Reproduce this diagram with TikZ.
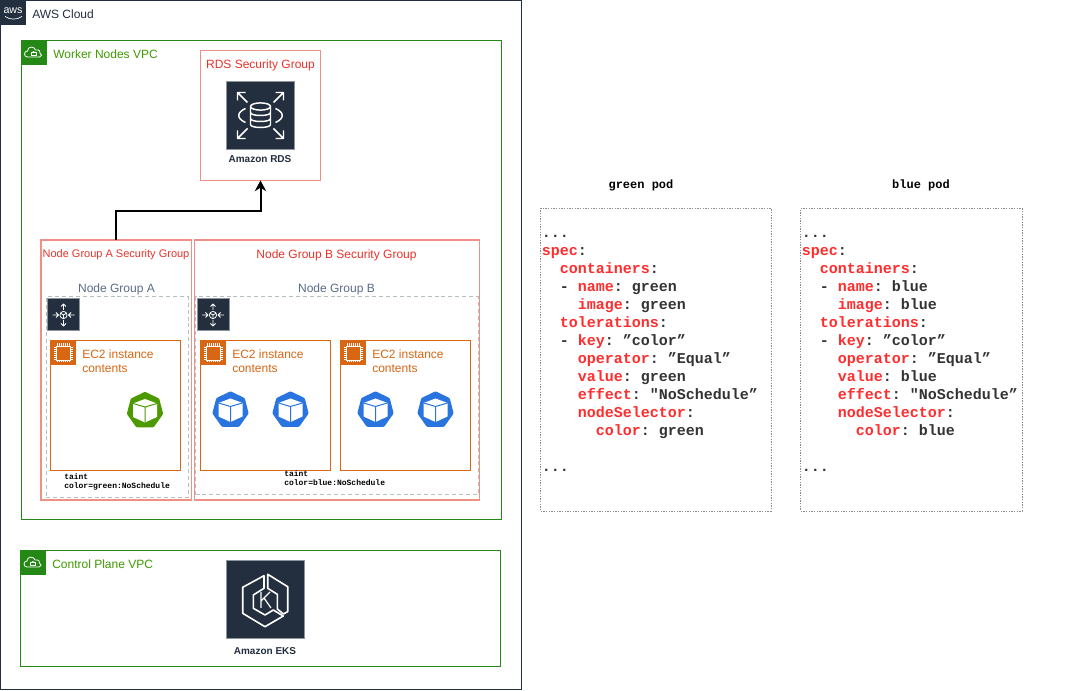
\documentclass[tikz,border=0pt]{standalone}
\usepackage{fontspec}
\setmainfont{Liberation Sans}
\setmonofont{Liberation Mono}
\usetikzlibrary{fit,arrows.meta,calc}
\definecolor{awsdark}{HTML}{232F3E}
\definecolor{vpcline}{HTML}{248814}
\definecolor{vpctext}{HTML}{3F9A00}
\definecolor{sgline}{HTML}{F08F85}
\definecolor{sgtext}{HTML}{E8332A}
\definecolor{ngtext}{HTML}{5A6C86}
\definecolor{ngline}{HTML}{B4BFC0}
\definecolor{ecorange}{HTML}{D86613}
\definecolor{iconedge}{HTML}{8C949E}
\definecolor{podgreen}{HTML}{4D9A00}
\definecolor{podblue}{HTML}{2A74E0}
\definecolor{codered}{HTML}{FF2D2D}
\definecolor{codeink}{HTML}{333333}
\newcommand{\fs}[2]{\fontsize{#1pt}{#2pt}\selectfont}
\newcommand{\kw}[1]{\textcolor{codered}{#1}}
\newcommand{\bx}[6]{\node[fit={(#3,#4)(#5,#6)},inner sep=0pt,outer sep=0pt,#2] (#1) {};}
\tikzset{
  x=0.75pt,y=-0.75pt,
  cloudbox/.style={draw=awsdark,line width=0.75pt},
  vpcbox/.style={draw=vpcline,line width=0.75pt},
  sgbox/.style={draw=sgline,line width=0.9pt},
  ngbox/.style={draw=ngline,line width=0.75pt,dash pattern=on 3pt off 2.2pt},
  ecbox/.style={draw=ecorange,line width=0.9pt},
  codebox/.style={draw=black!45,line width=0.6pt,dash pattern=on 1pt off 1pt},
  iconbox/.style={fill=awsdark,draw=iconedge,line width=0.75pt},
  vpcflag/.style={fill=vpcline},
  ecflag/.style={fill=ecorange},
  awsflag/.style={fill=awsdark},
  vpclabel/.style={anchor=west,inner sep=0pt,text=vpctext,font=\fs{9}{11}},
  sglabel/.style={inner sep=0pt,text=sgtext,font=\fs{9}{11}},
  nglabel/.style={inner sep=0pt,text=ngtext,font=\fs{9}{11}},
  eclabel/.style={anchor=north west,align=left,inner sep=0pt,text=ecorange,font=\fs{9}{10.5}},
  iconlabel/.style={inner sep=0pt,text=awsdark,font=\bfseries\fs{7.5}{9}},
  taintlabel/.style={anchor=north west,align=left,inner sep=0pt,font=\ttfamily\bfseries\fs{6}{6.75}},
  titlelabel/.style={inner sep=0pt,font=\ttfamily\bfseries\fs{9}{10}},
  codelabel/.style={anchor=north west,align=left,inner sep=0pt,text=codeink,font=\ttfamily\bfseries\fs{11.25}{13.45}},
  connector/.style={draw=black,line width=1.5pt,-{Stealth[length=8pt,width=8.5pt]}},
  iconline/.style={draw=white,line width=0.75pt,fill=none,line join=round},
}
\newcommand{\podicon}[3]{%
  \begin{scope}[shift={(#1,#2)}]
    \fill[#3,draw=#3,line width=3pt,line join=round] (0,-16) -- (12.5,-10) -- (16,3.5) -- (7.5,15.5) -- (-7.5,15.5) -- (-16,3.5) -- (-12.5,-10) -- cycle;
    \fill[white] (0,-11) -- (12,-6.5) -- (12,7) -- (0,12.5) -- (-12,7) -- (-12,-6.5) -- cycle;
    \draw[#3,line width=0.75pt] (-12,-6.5) -- (0,-3) -- (12,-6.5) (0,-3) -- (0,12.5);
  \end{scope}}
\newcommand{\cloudicon}[2]{%
  \begin{scope}[shift={(#1,#2)}]
    \draw[iconline,line width=0.6pt] (-6,4) .. controls (-10,4) and (-10,-2) .. (-6,-2) .. controls (-6,-7) and (1,-7) .. (2,-3) .. controls (6,-4) and (7,-1) .. (6.5,0) .. controls (9,1) and (8.5,4) .. (6,4) -- cycle;
    \draw[iconline,line width=0.6pt] (-2.5,-0.2) rectangle (2.5,2.8);
    \draw[iconline,line width=0.6pt] (-1.4,-0.2) arc (180:360:1.4);
  \end{scope}}
\newcommand{\chipicon}[2]{%
  \begin{scope}[shift={(#1,#2)}]
    \draw[white,line width=0.6pt] (-7,-7) rectangle (7,7);
    \foreach \t in {-6,-4,-2,0,2,4,6} {
      \draw[white,line width=0.4pt] (\t,-7) -- (\t,-9.5) (\t,7) -- (\t,9.5) (-7,\t) -- (-9.5,\t) (7,\t) -- (9.5,\t);
    }
  \end{scope}}
\newcommand{\scaleicon}[2]{%
  \begin{scope}[shift={(#1,#2)}]
    \draw[iconline,line width=0.6pt] (0,0) circle (3.6);
    \draw[iconline,line width=0.6pt] (-3,-1.8) -- (0,0) -- (3,-1.8) (0,0) -- (0,3.6);
    \draw[iconline,line width=0.6pt] (-5,0) -- (-11,0) (-7.5,-2.5) -- (-5,0) -- (-7.5,2.5);
    \draw[iconline,line width=0.6pt] (5,0) -- (11,0) (7.5,-2.5) -- (5,0) -- (7.5,2.5);
    \draw[iconline,line width=0.6pt] (0,-5) -- (0,-11) (-2.5,-8.5) -- (0,-11) -- (2.5,-8.5);
    \draw[iconline,line width=0.6pt] (0,5) -- (0,11) (-2.5,8.5) -- (0,11) -- (2.5,8.5);
  \end{scope}}
\begin{document}
\begin{tikzpicture}
\useasboundingbox (0,0) rectangle (1083,691);
\fill[white] (0,0) rectangle (1083,691);
% containers
\bx{cloud}{cloudbox}{0.5}{0.5}{521}{690}
\bx{worker}{vpcbox}{21.5}{41}{501.5}{520}
\bx{control}{vpcbox}{20.5}{550.5}{500.5}{666.5}
\bx{rdssg}{sgbox}{200.5}{50.5}{320.5}{180.5}
\bx{nga}{ngbox}{46}{297}{188}{497.5}
\bx{ngb}{ngbox}{195.5}{297}{478}{495}
\bx{sga}{sgbox}{41}{240}{191.5}{500}
\bx{sgb}{sgbox}{194.5}{240}{479.5}{500}
\bx{eca}{ecbox}{50.5}{340.5}{180.5}{470.5}
\bx{ecb}{ecbox}{200.5}{340.5}{330.5}{470.5}
\bx{ecc}{ecbox}{340.5}{340.5}{470.5}{470.5}
% flags
\bx{awslogo}{awsflag}{0}{0}{25.5}{25.5}
\bx{workerflag}{vpcflag}{21.5}{41}{46.5}{65.5}
\bx{controlflag}{vpcflag}{20.5}{550.5}{45.5}{575.5}
\bx{ecaflag}{ecflag}{50.5}{340.5}{75.5}{365.5}
\bx{ecbflag}{ecflag}{200.5}{340.5}{225.5}{365.5}
\bx{eccflag}{ecflag}{340.5}{340.5}{365.5}{365.5}
\node[inner sep=0pt,text=white,font=\fs{8}{9}] (awsword) at (13,10.5) {aws};
\draw[white,line width=0.5pt] (5,16.5) .. controls (10,20) and (17,20) .. (22,16.5);
\cloudicon{33.5}{53}
\cloudicon{33}{563}
\chipicon{63}{353}
\chipicon{213}{353}
\chipicon{353}{353}
% labels
\node[anchor=west,inner sep=0pt,text=awsdark,font=\fs{9}{11}] (cloudlabel) at (32,14) {AWS Cloud};
\node[vpclabel] (workerlabel) at (53,54) {Worker Nodes VPC};
\node[vpclabel] (controllabel) at (52,564.5) {Control Plane VPC};
\node[sglabel] (rdslabel) at (260.5,65) {RDS Security Group};
\node[sglabel,font=\fs{8.25}{10}] (sgalabel) at (116,254.5) {Node Group A Security Group};
\node[sglabel,font=\fs{9}{11}] (sgblabel) at (336.5,255) {Node Group B Security Group};
\node[nglabel] (ngalabel) at (116.5,289) {Node Group A};
\node[nglabel] (ngblabel) at (336.5,289) {Node Group B};
\node[eclabel] (ecatext) at (82,349.5) {EC2 instance\\contents};
\node[eclabel] (ecbtext) at (232,349.5) {EC2 instance\\contents};
\node[eclabel] (ecctext) at (372,349.5) {EC2 instance\\contents};
\node[taintlabel] (tainta) at (64,473.5) {taint\\color=green:NoSchedule};
\node[taintlabel] (taintb) at (284,470.5) {taint\\color=blue:NoSchedule};
% RDS icon
\node[iconbox,minimum width=51.5pt,minimum height=51.5pt,inner sep=0pt] (rdsicon) at (260.5,115.5) {};
\begin{scope}[shift={(260.5,115.5)}]
  \draw[iconline,line width=1.1pt] (-10,-9) -- (-10,9) .. controls (-10,13) and (10,13) .. (10,9) -- (10,-9);
  \draw[iconline,line width=1.1pt] (0,-9) ellipse [x radius=10,y radius=3.6];
  \draw[iconline,line width=1.1pt] (-10,-3) .. controls (-10,1) and (10,1) .. (10,-3);
  \draw[iconline,line width=1.1pt] (-10,3) .. controls (-10,7) and (10,7) .. (10,3);
  \draw[iconline,line width=1.1pt] (-15,-7) .. controls (-24,-3) and (-24,3) .. (-15,7);
  \draw[iconline,line width=1.1pt] (15,-7) .. controls (24,-3) and (24,3) .. (15,7);
  \draw[iconline,line width=1.1pt] (-13,-13) -- (-23,-23) (-23,-15) -- (-23,-23) -- (-15,-23);
  \draw[iconline,line width=1.1pt] (13,-13) -- (23,-23) (23,-15) -- (23,-23) -- (15,-23);
  \draw[iconline,line width=1.1pt] (-13,13) -- (-23,23) (-23,15) -- (-23,23) -- (-15,23);
  \draw[iconline,line width=1.1pt] (13,13) -- (23,23) (23,15) -- (23,23) -- (15,23);
\end{scope}
\node[iconlabel] (rdsname) at (260,159.5) {Amazon RDS};
% EKS icon
\node[iconbox,minimum width=58.5pt,minimum height=58.5pt,inner sep=0pt] (eksicon) at (265.5,600) {};
\begin{scope}[shift={(265,600)}]
  \draw[iconline,line width=1.2pt] (-1,-24.3) -- (-22.3,-12.7) -- (-22.3,13.3) -- (0,26.7) -- (18.3,16) -- (8.3,10) -- (0,15) -- (-11.7,8.3) -- (-11.7,-5) -- (-1,-11.7) -- cycle;
  \draw[iconline,line width=1.2pt] (2.7,-25.7) -- (22.7,-13.3) -- (22.7,11.7) -- (18.3,14) -- (12.3,9) -- (12.3,-5.7) -- (2.7,-11.7) -- cycle;
  \draw[iconline,line width=0.9pt] (-4,-8) -- (-4,8) (5,-8) -- (-4,1) (-1,-2) -- (6,8);
\end{scope}
\node[iconlabel] (eksname) at (265,651.5) {Amazon EKS};
% scaling icons
\node[iconbox,minimum width=24pt,minimum height=24pt,inner sep=0pt] (scalea) at (63.5,315) {};
\node[iconbox,minimum width=24pt,minimum height=24pt,inner sep=0pt] (scaleb) at (213,315) {};
\scaleicon{63.5}{315}
\scaleicon{213}{315}
% pods
\podicon{145}{410}{podgreen}
\podicon{230.5}{409.5}{podblue}
\podicon{290.5}{409.5}{podblue}
\podicon{375.5}{409.5}{podblue}
\podicon{435.5}{409.5}{podblue}
% connector
\draw[connector] (sga.north) -- ++(0,-29) -| (rdssg.south);
% manifests
\node[titlelabel] (greentitle) at (641,185) {green pod};
\node[titlelabel] (bluetitle) at (921,185) {blue pod};
\bx{greenbox}{codebox}{540.5}{208.5}{771}{511}
\bx{bluebox}{codebox}{800.5}{208.5}{1022}{511}
\node[codelabel] (greencode) at (541.5,235.5) {...\\
\kw{spec}:\\
\ \ \kw{containers}:\\
\ \ - \kw{name}: green\\
\ \ \ \ \kw{image}: green\\
\ \ \kw{tolerations}:\\
\ \ - \kw{key}: ”color”\\
\ \ \ \ \kw{operator}: ”Equal”\\
\ \ \ \ \kw{value}: green\\
\ \ \ \ \kw{effect}: "NoSchedule”\\
\ \ \ \ \kw{nodeSelector}:\\
\ \ \ \ \ \ \kw{color}: green\\
\\
...};
\node[codelabel] (bluecode) at (801.5,235.5) {...\\
\kw{spec}:\\
\ \ \kw{containers}:\\
\ \ - \kw{name}: blue\\
\ \ \ \ \kw{image}: blue\\
\ \ \kw{tolerations}:\\
\ \ - \kw{key}: ”color”\\
\ \ \ \ \kw{operator}: ”Equal”\\
\ \ \ \ \kw{value}: blue\\
\ \ \ \ \kw{effect}: "NoSchedule”\\
\ \ \ \ \kw{nodeSelector}:\\
\ \ \ \ \ \ \kw{color}: blue\\
\\
...};
\end{tikzpicture}
\end{document}
